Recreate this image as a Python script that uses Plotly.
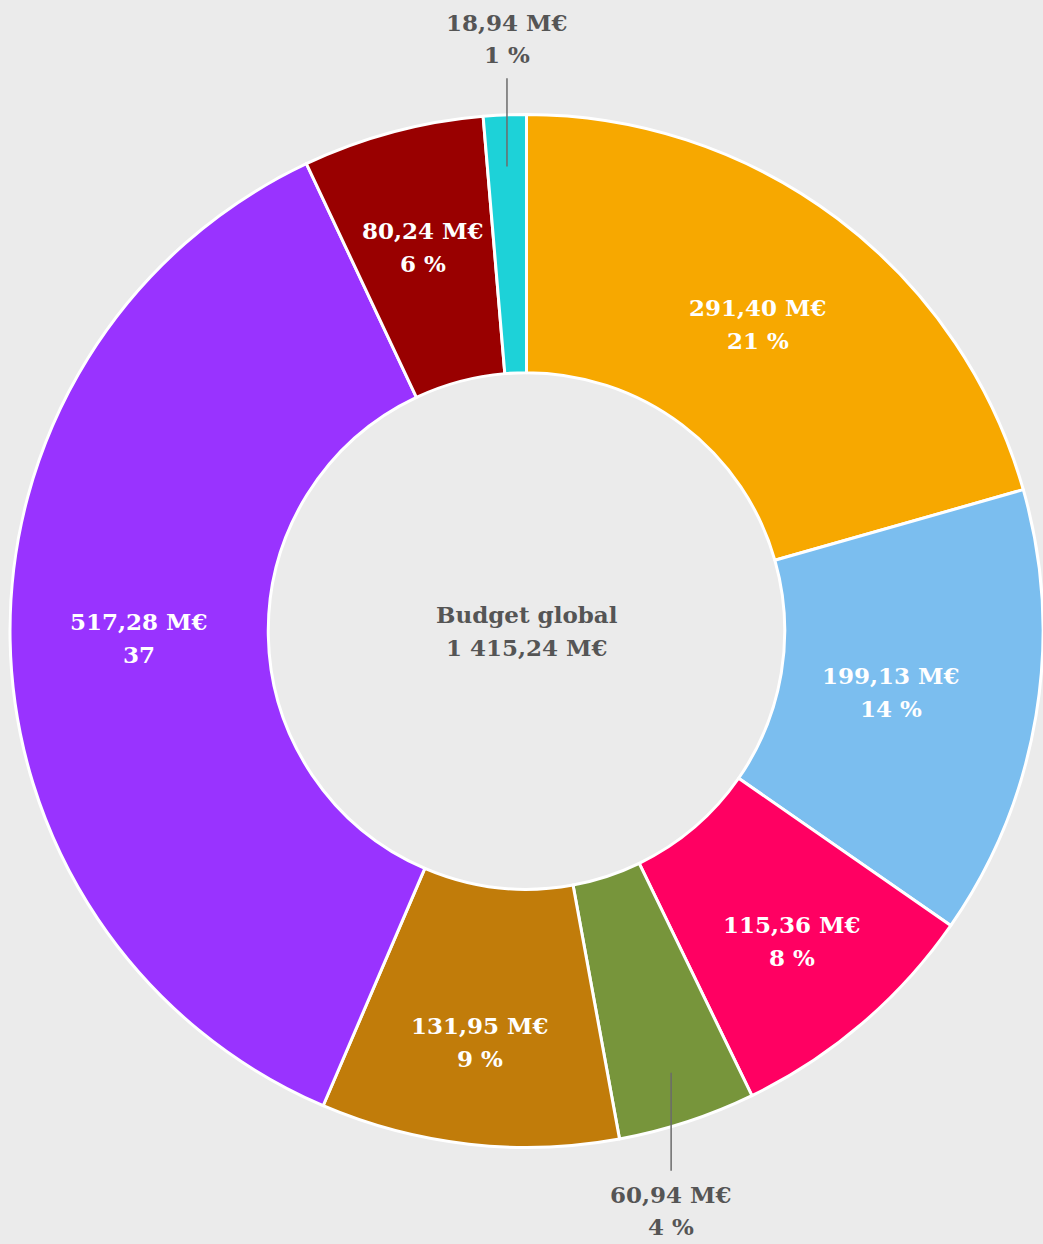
import math
import plotly.graph_objects as go

# ---- data ----
categories = ["A", "B", "C", "D", "E", "F", "G", "H"]
values = [291.40, 199.13, 115.36, 60.94, 131.95, 517.28, 80.24, 18.94]
value_labels = ["291,40 M€", "199,13 M€", "115,36 M€", "60,94 M€",
                "131,95 M€", "517,28 M€", "80,24 M€", "18,94 M€"]
pct_labels = ["21 %", "14 %", "8 %", "4 %", "9 %", "37", "6 %", "1 %"]
outside = [False, False, False, True, False, False, False, True]
colors = ["#F7A800", "#7BBEEF", "#FF0062", "#77953B",
          "#C17C0A", "#9933FF", "#990000", "#1DD2D8"]
center_title = "Budget global"
center_total = "1 415,24 M€"

# ---- geometry / style ----
W, H = 1043, 1244
dom_x = [0.0096, 1.0]
dom_y = [0.0, 0.9856]
R = min(W * (dom_x[1] - dom_x[0]), H * (dom_y[1] - dom_y[0])) / 2
cx = W * (dom_x[0] + dom_x[1]) / 2
cy = H * (1 - (dom_y[0] + dom_y[1]) / 2)
label_r = [0.745, 0.715, 0.79, 0.75, 0.80, 0.75, 0.77, 0.75]
FONT = "DejaVu Serif"
FS = 23
GREY = "#555555"
LINE_GAP = 16.5


def to_paper(px, py):
    return px / W, 1 - py / H


fig = go.Figure(go.Pie(
    labels=categories, values=values, sort=False, direction="clockwise",
    rotation=0, hole=0.5, textinfo="none", hoverinfo="label+value",
    marker=dict(colors=colors, line=dict(color="white", width=3)),
    domain=dict(x=dom_x, y=dom_y), showlegend=False,
))

annotations = []
shapes = []
total = sum(values)
cum = 0.0
for i, v in enumerate(values):
    mid = (cum + v / 2) / total * 2 * math.pi
    cum += v
    sx, sy = math.sin(mid), -math.cos(mid)
    if not outside[i]:
        px, py = cx + label_r[i] * R * sx, cy + label_r[i] * R * sy
        xp, yp = to_paper(px, py)
        for txt, shift in ((value_labels[i], LINE_GAP), (pct_labels[i], -LINE_GAP)):
            annotations.append(dict(
                x=xp, y=yp, xref="paper", yref="paper", text="<b>" + txt + "</b>",
                showarrow=False, yshift=shift, xanchor="center", yanchor="middle",
                font=dict(family=FONT, size=FS, color="white")))
    else:
        x0, y0 = cx + 0.9 * R * sx, cy + 0.9 * R * sy
        direction = 1 if sy > 0 else -1
        y1 = cy + direction * (1.045 if direction > 0 else 1.07) * R
        p0 = to_paper(x0, y0)
        p1 = to_paper(x0, y1)
        shapes.append(dict(type="line", xref="paper", yref="paper",
                           x0=p0[0], y0=p0[1], x1=p1[0], y1=p1[1],
                           line=dict(color="#6b6b6b", width=1.5)))
        near = y1 + direction * 24
        far = near + direction * 32
        first, second = (value_labels[i], pct_labels[i])
        if direction > 0:
            pos = ((first, near), (second, far))
        else:
            pos = ((first, far), (second, near))
        for txt, py in pos:
            xp, yp = to_paper(x0, py)
            annotations.append(dict(
                x=xp, y=yp, xref="paper", yref="paper", text="<b>" + txt + "</b>",
                showarrow=False, xanchor="center", yanchor="middle",
                font=dict(family=FONT, size=FS, color=GREY)))

xc, yc = to_paper(cx, cy)
for txt, shift in ((center_title, LINE_GAP), (center_total, -LINE_GAP)):
    annotations.append(dict(
        x=xc, y=yc, xref="paper", yref="paper", text="<b>" + txt + "</b>",
        showarrow=False, yshift=shift, xanchor="center", yanchor="middle",
        font=dict(family=FONT, size=FS, color=GREY)))

fig.update_layout(
    width=W, height=H, margin=dict(l=0, r=0, t=0, b=0),
    paper_bgcolor="#EBEBEB", plot_bgcolor="#EBEBEB",
    annotations=annotations, shapes=shapes,
)

fig.write_html(
    "out.html",
    config={"displayModeBar": False},
    post_script="document.body.style.margin='0';document.body.style.overflow='hidden';",
)
